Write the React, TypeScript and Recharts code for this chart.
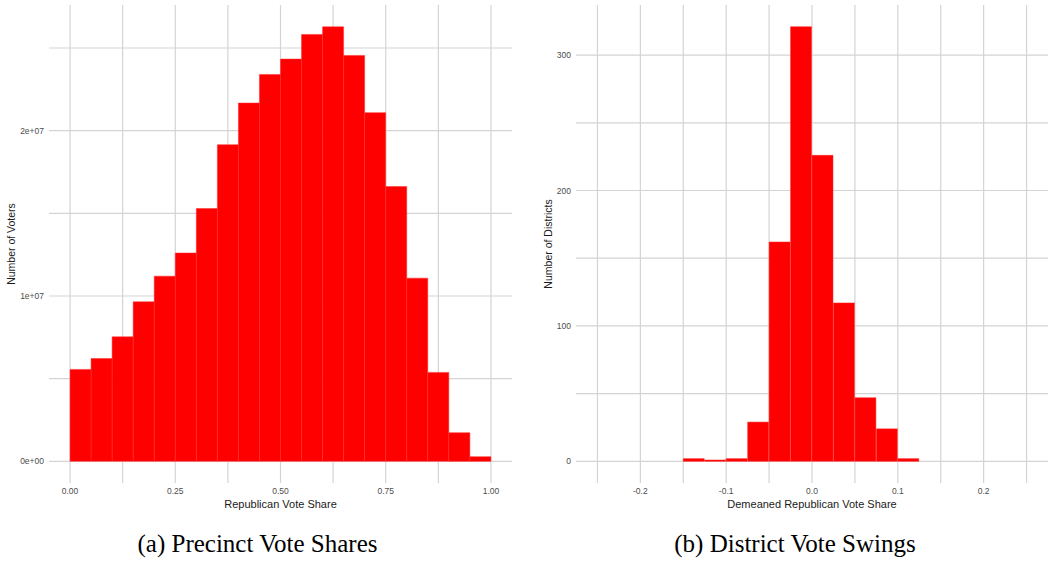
import React from 'react';
import { ComposedChart, Bar, XAxis, YAxis, CartesianGrid, Label } from 'recharts';

// Precinct-level histogram: bin lower edges (width 0.05) and voter totals
const precinctBinStarts = [0.0, 0.05, 0.1, 0.15, 0.2, 0.25, 0.3, 0.35, 0.4, 0.45, 0.5, 0.55, 0.6, 0.65, 0.7, 0.75, 0.8, 0.85, 0.9, 0.95];
const precinctVoters = [
  5.56e6, 6.22e6, 7.53e6, 9.65e6, 11.2e6, 12.6e6, 15.29e6, 19.15e6, 21.67e6, 23.4e6,
  24.33e6, 25.82e6, 26.28e6, 24.55e6, 21.09e6, 16.62e6, 11.08e6, 5.38e6, 1.73e6, 0.28e6,
];
const precinctXTicks = [0, 0.25, 0.5, 0.75, 1];
const precinctXGrid = [0, 0.125, 0.25, 0.375, 0.5, 0.625, 0.75, 0.875, 1];
const precinctYTicks = [0, 1e7, 2e7];
const precinctYGrid = [0, 5e6, 1e7, 1.5e7, 2e7, 2.5e7];

// District swing histogram: bin lower edges (width 0.025) and district counts
const districtBinStarts = [
  -0.25, -0.225, -0.2, -0.175, -0.15, -0.125, -0.1, -0.075, -0.05, -0.025,
  0.0, 0.025, 0.05, 0.075, 0.1, 0.125, 0.15, 0.175, 0.2, 0.225,
];
const districtCounts = [0, 0, 0, 0, 2, 1, 2, 29, 162, 321, 226, 117, 47, 24, 2, 0, 0, 0, 0, 0];
const districtXTicks = [-0.2, -0.1, 0, 0.1, 0.2];
const districtXGrid = [-0.25, -0.2, -0.15, -0.1, -0.05, 0, 0.05, 0.1, 0.15, 0.2, 0.25];
const districtYTicks = [0, 100, 200, 300];
const districtYGrid = [0, 50, 100, 150, 200, 250, 300];

const SANS = '"Liberation Sans", Arial, Helvetica, sans-serif';
const tickStyle = { fontSize: 8.5, fill: '#4d4d4d', fontFamily: SANS };
const GRID = '#d4d4d4';

const toBins = (starts: number[], values: number[], width: number) =>
  starts.map((s, i) => ({ mid: s + width / 2, count: values[i] }));

const sci = (v: number) => {
  if (v === 0) return '0e+00';
  const exp = Math.floor(Math.log10(Math.abs(v)));
  const mant = v / Math.pow(10, exp);
  return `${mant}e+${String(exp).padStart(2, '0')}`;
};

const yTitle = (text: string, x: number) => (props: any) => {
  const vb = props.viewBox || { y: 5, height: 478 };
  const cy = vb.y + vb.height / 2;
  return (
    <text
      x={x}
      y={cy}
      transform={`rotate(-90 ${x} ${cy})`}
      textAnchor="middle"
      dominantBaseline="central"
      fontSize={10.5}
      fill="#1a1a1a"
      fontFamily={SANS}
    >
      {text}
    </text>
  );
};

const xTitle = (text: string) => (props: any) => {
  const vb = props.viewBox || { x: 0, width: 0 };
  return (
    <text
      x={vb.x + vb.width / 2}
      y={504}
      textAnchor="middle"
      dominantBaseline="central"
      fontSize={11}
      fill="#1a1a1a"
      fontFamily={SANS}
    >
      {text}
    </text>
  );
};

const captionStyle: React.CSSProperties = {
  position: 'absolute',
  top: 529,
  width: 400,
  lineHeight: '30px',
  fontFamily: '"Liberation Serif", "Times New Roman", serif',
  fontSize: 25,
  color: '#000',
  textAlign: 'center',
  whiteSpace: 'nowrap',
};

export default function App() {
  const precinctData = toBins(precinctBinStarts, precinctVoters, 0.05);
  const districtData = toBins(districtBinStarts, districtCounts, 0.025);

  return (
    <div style={{ position: 'absolute', left: 0, top: 0, width: 1052, height: 561, background: '#fff', overflow: 'hidden' }}>
      <div style={{ position: 'absolute', left: 0, top: 0 }}>
        <ComposedChart
          width={520}
          height={520}
          data={precinctData}
          margin={{ top: 5, right: 8, left: 9, bottom: 7 }}
          barCategoryGap={0}
          barGap={0}
        >
          <CartesianGrid
            stroke={GRID}
            strokeWidth={1.2}
            horizontalValues={precinctYGrid}
            verticalValues={precinctXGrid}
          />
          <XAxis
            dataKey="mid"
            type="number"
            domain={[-0.05, 1.05]}
            ticks={precinctXTicks}
            allowDataOverflow
            tickFormatter={(v: number) => v.toFixed(2)}
            tick={tickStyle}
            tickLine={false}
            axisLine={false}
            tickSize={0}
            tickMargin={5}
            height={30}
          >
            <Label content={xTitle('Republican Vote Share')} />
          </XAxis>
          <YAxis
            type="number"
            domain={[-1.31e6, 2.76e7]}
            ticks={precinctYTicks}
            allowDataOverflow
            tickFormatter={sci}
            tick={tickStyle}
            tickLine={false}
            axisLine={false}
            tickSize={0}
            tickMargin={5}
            width={40}
          >
            <Label content={yTitle('Number of Voters', 11)} />
          </YAxis>
          <Bar dataKey="count" fill="#ff0000" stroke="#ff2a2a" strokeWidth={0.5} isAnimationActive={false} />
        </ComposedChart>
      </div>

      <div style={{ position: 'absolute', left: 530, top: 0 }}>
        <ComposedChart
          width={522}
          height={520}
          data={districtData}
          margin={{ top: 5, right: 4, left: 6, bottom: 7 }}
          barCategoryGap={0}
          barGap={0}
        >
          <CartesianGrid
            stroke={GRID}
            strokeWidth={1.2}
            horizontalValues={districtYGrid}
            verticalValues={districtXGrid}
          />
          <XAxis
            dataKey="mid"
            type="number"
            domain={[-0.275, 0.275]}
            ticks={districtXTicks}
            allowDataOverflow
            tickFormatter={(v: number) => v.toFixed(1)}
            tick={tickStyle}
            tickLine={false}
            axisLine={false}
            tickSize={0}
            tickMargin={5}
            height={30}
          >
            <Label content={xTitle('Demeaned Republican Vote Share')} />
          </XAxis>
          <YAxis
            type="number"
            domain={[-16, 337]}
            ticks={districtYTicks}
            allowDataOverflow
            tick={tickStyle}
            tickLine={false}
            axisLine={false}
            tickSize={0}
            tickMargin={5}
            width={40}
          >
            <Label content={yTitle('Number of Districts', 17.5)} />
          </YAxis>
          <Bar dataKey="count" fill="#ff0000" stroke="#ff2a2a" strokeWidth={0.5} isAnimationActive={false} />
        </ComposedChart>
      </div>

      <div style={{ ...captionStyle, left: 257.5 - 200 }}>(a) Precinct Vote Shares</div>
      <div style={{ ...captionStyle, left: 795 - 200 }}>(b) District Vote Swings</div>
    </div>
  );
}
